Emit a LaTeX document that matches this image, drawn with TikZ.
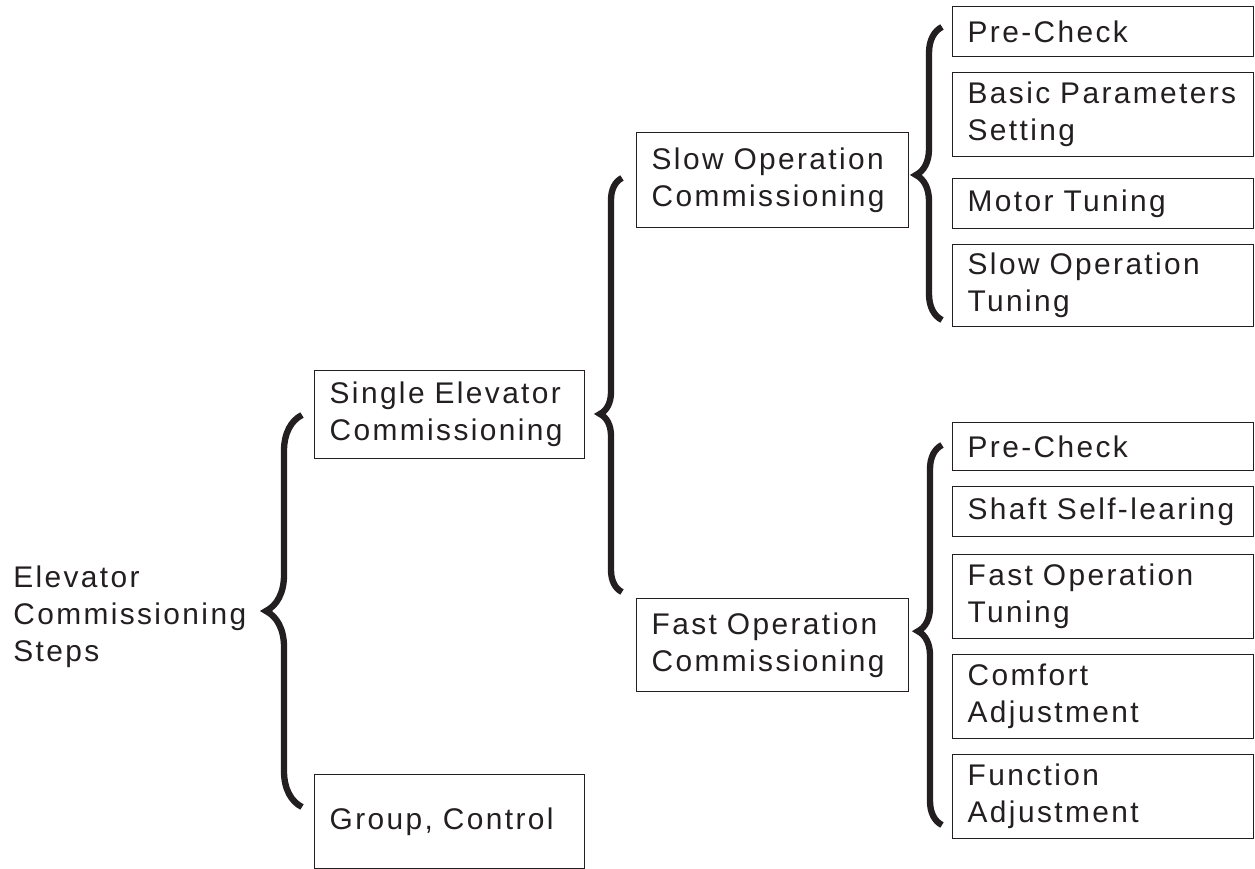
\documentclass[tikz,border=0pt]{standalone}
\usepackage{fontspec}
\setmainfont{Liberation Sans}[LetterSpace=8,WordSpace=0.6]
\usetikzlibrary{decorations.pathreplacing}
\definecolor{ink}{HTML}{231F20}
\tikzstyle{stage}=[draw=ink,
                   line width=0.8pt,
                   anchor=north west,
                   inner xsep=0.3cm,
                   inner ysep=0pt,
                   align=left,
                   text=ink,
                   font=\fontsize{17}{21}\selectfont]
\tikzstyle{curly}=[draw=ink, line width=3.6pt, decorate]

\begin{document}
\begin{tikzpicture}[x=0.02cm, y=-0.02cm]
    \useasboundingbox (0,0) rectangle (1255,869);
    % root
    \node[anchor=west, inner sep=0pt, align=left, text=ink, font=\fontsize{17}{21}\selectfont] (root) at (13,617) {Elevator\\Commissioning\\Steps};
    % second level
    \node[stage, text width=4.8cm, minimum height=1.76cm] (single) at (314,370) {Single Elevator\\Commissioning};
    \node[stage, text width=4.8cm, minimum height=1.88cm] (group) at (314,774) {Group, Control};
    % third level
    \node[stage, text width=4.84cm, minimum height=1.9cm] (slow) at (636,132) {Slow Operation\\Commissioning};
    \node[stage, text width=4.84cm, minimum height=1.86cm] (fast) at (636,598) {Fast Operation\\Commissioning};
    % slow operation steps
    \node[stage, text width=5.42cm, minimum height=1.0cm] (precheckA) at (952,6) {Pre-Check};
    \node[stage, text width=5.42cm, minimum height=1.68cm] (basic) at (952,72) {Basic Parameters\\Setting};
    \node[stage, text width=5.42cm, minimum height=1.0cm] (motor) at (952,178) {Motor Tuning};
    \node[stage, text width=5.42cm, minimum height=1.64cm] (slowtune) at (952,244) {Slow Operation\\Tuning};
    % fast operation steps
    \node[stage, text width=5.42cm, minimum height=0.96cm] (precheckB) at (952,422) {Pre-Check};
    \node[stage, text width=5.42cm, minimum height=1.0cm] (shaft) at (952,486) {Shaft Self-learing};
    \node[stage, text width=5.42cm, minimum height=1.68cm] (fasttune) at (952,554) {Fast Operation\\Tuning};
    \node[stage, text width=5.42cm, minimum height=1.68cm] (comfort) at (952,654) {Comfort\\Adjustment};
    \node[stage, text width=5.42cm, minimum height=1.68cm] (function) at (952,754) {Function\\Adjustment};

    % brace ends
    \coordinate (rootlo) at (302,807);
    \coordinate (roothi) at (302,415);
    \coordinate (singlelo) at (622,592);
    \coordinate (singlehi) at (622,178);
    \coordinate (slowlo) at (942,320);
    \coordinate (slowhi) at (942,27);
    \coordinate (fastlo) at (942,825);
    \coordinate (fasthi) at (942,445);

    \draw[curly, decoration={brace, amplitude=0.72cm, aspect=0.5}] (rootlo) -- (roothi);
    \draw[curly, decoration={brace, amplitude=0.44cm, aspect=0.43}] (singlelo) -- (singlehi);
    \draw[curly, decoration={brace, amplitude=0.52cm, aspect=0.495}] (slowlo) -- (slowhi);
    \draw[curly, decoration={brace, amplitude=0.48cm, aspect=0.51}] (fastlo) -- (fasthi);
\end{tikzpicture}
\end{document}
